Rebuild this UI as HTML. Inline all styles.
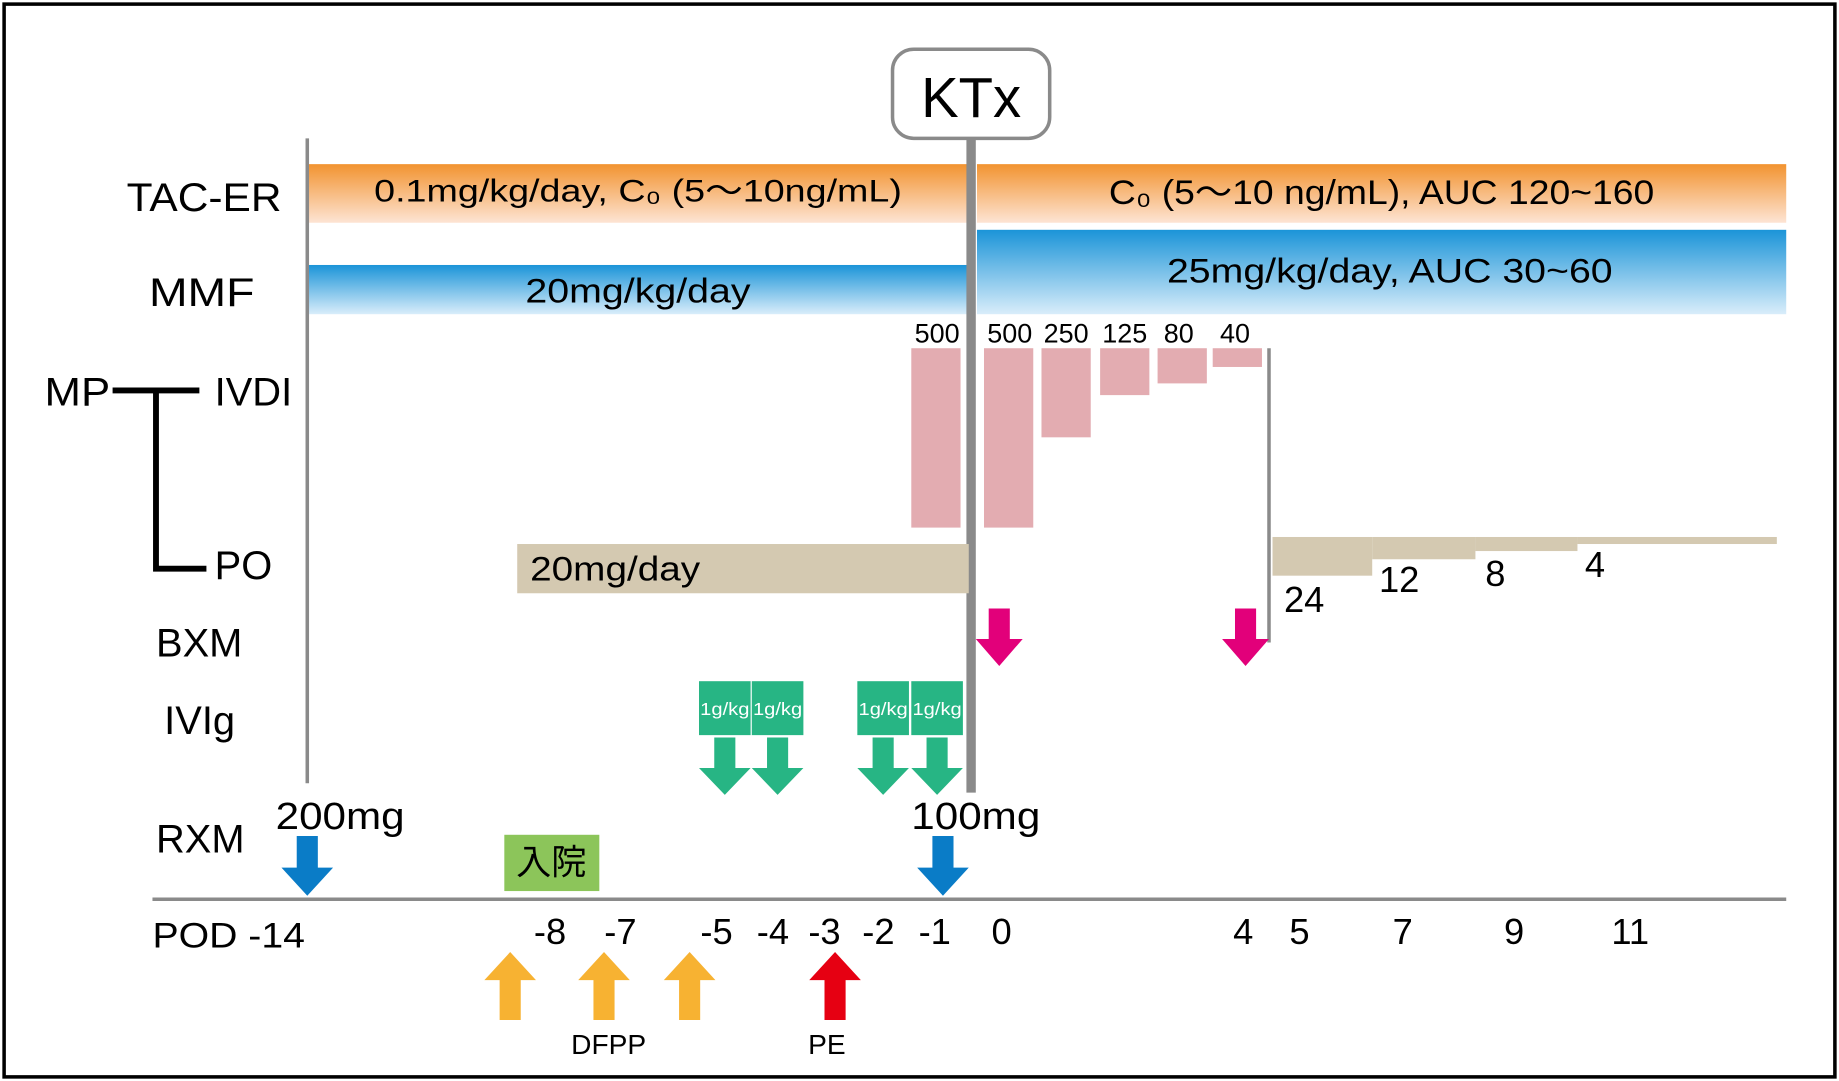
<!DOCTYPE html>
<html><head><meta charset="utf-8"><style>
html,body{margin:0;padding:0;background:#fff;}
svg{display:block;}
text{font-family:"Liberation Sans","Noto Sans CJK JP",sans-serif;fill:#000;}
</style></head><body>
<svg width="1839" height="1081" viewBox="0 0 1568 922" preserveAspectRatio="none" xmlns="http://www.w3.org/2000/svg">
<defs>
<linearGradient id="og" x1="0" y1="0" x2="0" y2="1"><stop offset="0" stop-color="#f29330"/><stop offset="1" stop-color="#fde4d4"/></linearGradient>
<linearGradient id="bg" x1="0" y1="0" x2="0" y2="1"><stop offset="0" stop-color="#1b94d8"/><stop offset="1" stop-color="#d9edfa"/></linearGradient>
</defs>
<rect x="0" y="0" width="1568" height="922" fill="#fff"/>
<rect x="3.5" y="3.5" width="1561" height="915" fill="none" stroke="#000" stroke-width="3"/>

<rect x="263" y="140" width="563" height="50" fill="url(#og)"/>
<rect x="833" y="140" width="690" height="50" fill="url(#og)"/>
<rect x="263" y="226" width="563" height="42" fill="url(#bg)"/>
<rect x="833" y="196" width="690" height="72" fill="url(#bg)"/>
<text x="544" y="172" font-size="27" text-anchor="middle" textLength="450" lengthAdjust="spacingAndGlyphs">0.1mg/kg/day, C₀ (5～10ng/mL)</text>
<text x="1178" y="174" font-size="29" text-anchor="middle" textLength="465" lengthAdjust="spacingAndGlyphs">C₀ (5～10 ng/mL), AUC 120~160</text>
<text x="544" y="258" font-size="29" text-anchor="middle" textLength="192" lengthAdjust="spacingAndGlyphs">20mg/kg/day</text>
<text x="1185" y="241" font-size="29" text-anchor="middle" textLength="380" lengthAdjust="spacingAndGlyphs">25mg/kg/day, AUC 30~60</text>

<line x1="262" y1="118" x2="262" y2="668" stroke="#8a8a8a" stroke-width="3"/>
<line x1="828" y1="118" x2="828" y2="676" stroke="#8a8a8a" stroke-width="8"/>
<rect x="761" y="42" width="134" height="76" rx="18" fill="#fff" stroke="#8a8a8a" stroke-width="3"/>
<text x="828" y="100" font-size="48" text-anchor="middle">KTx</text>

<g fill="#e3acb1">
<rect x="777" y="297" width="42" height="153"/>
<rect x="839" y="297" width="42" height="153"/>
<rect x="888" y="297" width="42" height="76"/>
<rect x="938" y="297" width="42" height="40"/>
<rect x="987" y="297" width="42" height="30"/>
<rect x="1034" y="297" width="42" height="16"/>
</g>
<g font-size="23" text-anchor="middle">
<text x="799" y="292">500</text><text x="861" y="292">500</text><text x="909" y="292">250</text>
<text x="959" y="292">125</text><text x="1005" y="292">80</text><text x="1053" y="292">40</text>
</g>
<line x1="1082" y1="297" x2="1082" y2="548" stroke="#8a8a8a" stroke-width="3"/>

<g fill="#d4c9b1">
<rect x="441" y="464" width="385" height="42"/>
<rect x="1085" y="458" width="85" height="33"/>
<rect x="1170" y="458" width="88" height="19"/>
<rect x="1258" y="458" width="87" height="12"/>
<rect x="1345" y="458" width="170" height="6"/>
</g>
<text x="452" y="495" font-size="29" textLength="145" lengthAdjust="spacingAndGlyphs">20mg/day</text>
<g font-size="31" text-anchor="middle">
<text x="1112" y="522">24</text><text x="1193" y="505">12</text><text x="1275" y="500">8</text><text x="1360" y="492">4</text>
</g>

<path d="M96 333 H170 M133 333 V485 H176" fill="none" stroke="#000" stroke-width="5"/>
<g font-size="34">
<text x="38" y="346" textLength="56" lengthAdjust="spacingAndGlyphs">MP</text>
<text x="183" y="346">IVDI</text>
<text x="183" y="494">PO</text>
<text x="108" y="180" textLength="132" lengthAdjust="spacingAndGlyphs">TAC-ER</text>
<text x="127" y="261" textLength="90" lengthAdjust="spacingAndGlyphs">MMF</text>
<text x="133" y="560">BXM</text>
<text x="140" y="626">IVIg</text>
<text x="133" y="727">RXM</text>
</g>

<g fill="#e2007a">
<path d="M843 519 H861 V545 H872 L852 568 L832 545 H843 Z"/>
<path d="M1053 519 H1071 V545 H1082 L1062 568 L1042 545 H1053 Z"/>
</g>

<g fill="#27b584">
<rect x="596" y="581" width="44" height="46"/><rect x="641" y="581" width="44" height="46"/>
<rect x="731" y="581" width="44" height="46"/><rect x="777" y="581" width="44" height="46"/>
<path d="M609 629 H627 V655 H640 L618 678 L596 655 H609 Z"/>
<path d="M654 629 H672 V655 H685 L663 678 L641 655 H654 Z"/>
<path d="M744 629 H762 V655 H775 L753 678 L731 655 H744 Z"/>
<path d="M790 629 H808 V655 H821 L799 678 L777 655 H790 Z"/>
</g>
<g font-size="15" text-anchor="middle">
<text x="618" y="610" style="fill:#fff" textLength="42" lengthAdjust="spacingAndGlyphs">1g/kg</text>
<text x="663" y="610" style="fill:#fff" textLength="42" lengthAdjust="spacingAndGlyphs">1g/kg</text>
<text x="753" y="610" style="fill:#fff" textLength="42" lengthAdjust="spacingAndGlyphs">1g/kg</text>
<text x="799" y="610" style="fill:#fff" textLength="42" lengthAdjust="spacingAndGlyphs">1g/kg</text>
</g>

<g fill="#0a7cc7">
<path d="M253 713 H271 V740 H284 L262 764 L240 740 H253 Z"/>
<path d="M795 713 H813 V740 H826 L804 764 L782 740 H795 Z"/>
</g>
<text x="235" y="707" font-size="32" textLength="110" lengthAdjust="spacingAndGlyphs">200mg</text>
<text x="777" y="707" font-size="32" textLength="110" lengthAdjust="spacingAndGlyphs">100mg</text>
<rect x="430" y="712" width="81" height="48" fill="#8cc55a"/>
<text x="470" y="746" font-size="30" text-anchor="middle">入院</text>

<line x1="130" y1="767" x2="1523" y2="767" stroke="#8a8a8a" stroke-width="3"/>
<text x="130" y="808" font-size="30" textLength="130" lengthAdjust="spacingAndGlyphs">POD -14</text>
<g font-size="31" text-anchor="middle">
<text x="469" y="805">-8</text><text x="529" y="805">-7</text><text x="611" y="805">-5</text>
<text x="659" y="805">-4</text><text x="703" y="805">-3</text><text x="749" y="805">-2</text>
<text x="797" y="805">-1</text><text x="854" y="805">0</text><text x="1060" y="805">4</text>
<text x="1108" y="805">5</text><text x="1196" y="805">7</text><text x="1291" y="805">9</text><text x="1390" y="805">11</text>
</g>

<g fill="#f7b232">
<path d="M426 870 H444 V836 H457 L435 812 L413 836 H426 Z"/>
<path d="M506 870 H524 V836 H537 L515 812 L493 836 H506 Z"/>
<path d="M579 870 H597 V836 H610 L588 812 L566 836 H579 Z"/>
</g>
<path d="M703 870 H721 V836 H734 L712 812 L690 836 H703 Z" fill="#e60012"/>
<text x="519" y="899" font-size="24" text-anchor="middle">DFPP</text>
<text x="705" y="899" font-size="24" text-anchor="middle">PE</text>
</svg>
</body></html>
